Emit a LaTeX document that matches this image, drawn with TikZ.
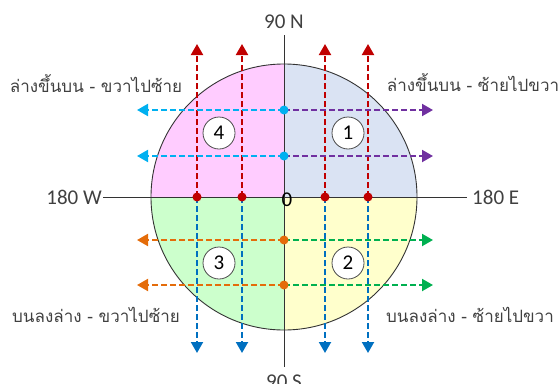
\documentclass[tikz,border=0pt]{standalone}
\usepackage{fontspec}
\setmainfont{Carlito}
\newfontfamily\thaifont[Script=Thai]{Loma}
\usetikzlibrary{arrows.meta}
\definecolor{qpink}{HTML}{FFCCFF}
\definecolor{qblue}{HTML}{DAE3F3}
\definecolor{qgreen}{HTML}{CCFFCC}
\definecolor{qyellow}{HTML}{FFFFCC}
\definecolor{cred}{HTML}{C00000}
\definecolor{cblue}{HTML}{0070C0}
\definecolor{ccyan}{HTML}{00B0F0}
\definecolor{cpurple}{HTML}{7030A0}
\definecolor{corange}{HTML}{E46C0A}
\definecolor{cgreen}{HTML}{00B050}
\definecolor{txt}{HTML}{404040}
\begin{document}
\begin{tikzpicture}[x=1pt,y=-1pt,
  dline/.style={draw=#1, dash pattern=on 6pt off 3pt, line width=2pt,
    -{Triangle[width=12pt,length=11pt]}},
  dot/.style={circle, fill=#1, inner sep=0pt, minimum size=9pt},
  num/.style={circle, draw=gray!60!black, line width=0.8pt, fill=white,
    minimum size=32pt, inner sep=0pt, font=\fontsize{21}{21}\selectfont},
  thai/.style={text=txt, font=\thaifont\fontsize{17}{17}\selectfont},
  lbl/.style={text=txt, font=\fontsize{21}{21}\selectfont}]
\useasboundingbox (0,0) rectangle (559,383);
\coordinate (O) at (284,197);
% quadrant fills
\begin{scope}
  \clip (O) circle [radius=133];
  \fill[qpink] (150,63) rectangle (284,197);
  \fill[qblue] (284,63) rectangle (418,197);
  \fill[qgreen] (150,197) rectangle (284,331);
  \fill[qyellow] (284,197) rectangle (418,331);
\end{scope}
\draw[gray!40!black, line width=0.9pt] (O) circle [radius=133];
% axes
\coordinate (N) at (284,35);
\coordinate (S) at (284,367);
\coordinate (W) at (103,197);
\coordinate (E) at (467,197);
\draw[black!80, line width=0.9pt] (N) -- (S);
\draw[black!80, line width=0.9pt] (W) -- (E);
\node[lbl] (lN) at (284,22) {90 N};
\node[lbl] (lS) at (284,382) {90 S};
\node[lbl, anchor=east, inner sep=1pt] (lW) at (W) {180 W};
\node[lbl, anchor=west, inner sep=1pt] (lE) at (471,197) {180 E};
% vertical arrows
\foreach \x [count=\i] in {197,242,325,368}{
  \coordinate (r\i) at (\x,197);
  \coordinate (rt\i) at (\x,44);
  \coordinate (bt\i) at (\x,353);
  \draw[dline=cred] (r\i) -- (rt\i);
  \draw[dline=cblue] (r\i) -- (bt\i);
}
% horizontal arrows
\foreach \y [count=\i] in {110,156}{
  \coordinate (c\i) at (284,\y);
  \coordinate (cl\i) at (137,\y);
  \coordinate (cr\i) at (433,\y);
  \draw[dline=ccyan] (c\i) -- (cl\i);
  \draw[dline=cpurple] (c\i) -- (cr\i);
}
\foreach \y [count=\i] in {240,285}{
  \coordinate (o\i) at (284,\y);
  \coordinate (ol\i) at (137,\y);
  \coordinate (or\i) at (433,\y);
  \draw[dline=corange] (o\i) -- (ol\i);
  \draw[dline=cgreen] (o\i) -- (or\i);
}
% dots
\foreach \i in {1,...,4}{ \node[dot=cred] (rd\i) at (r\i) {}; }
\foreach \i in {1,2}{
  \node[dot=ccyan] (cd\i) at (c\i) {};
  \node[dot=corange] (od\i) at (o\i) {};
}
% quadrant numbers
\node[num] (q4) at (219,133) {4};
\node[num] (q1) at (348,133) {1};
\node[num] (q3) at (219,263) {3};
\node[num] (q2) at (348,263) {2};
\node[font=\fontsize{21}{21}\selectfont, inner sep=0pt] (zero) at (287,200) {0};
% labels
\node[thai] (tl) at (96,84) {ล่างขึ้นบน - ขวาไปซ้าย};
\node[thai] (tr) at (473,83) {ล่างขึ้นบน - ซ้ายไปขวา};
\node[thai] (bl) at (96,315) {บนลงล่าง - ขวาไปซ้าย};
\node[thai] (br) at (470,315) {บนลงล่าง - ซ้ายไปขวา};
\end{tikzpicture}
\end{document}
